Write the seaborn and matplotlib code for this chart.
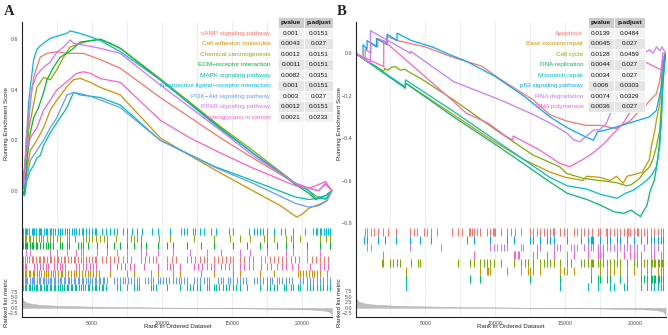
import numpy as np
import pandas as pd
import seaborn as sns
import matplotlib.pyplot as plt
from matplotlib.patches import Rectangle

sns.set_style("white")
plt.rcParams['font.family'] = ['Liberation Sans', 'DejaVu Sans']

W, H = 668, 335
X_MAX = 22200
MINUS = '\u2212'

# ---------------- panel A ----------------
sets_a = ['cAMP signaling pathway', 'Cell adhesion molecules', 'Chemical carcinogenesis',
          'ECM' + MINUS + 'receptor interaction', 'MAPK signaling pathway',
          'Neuroactive ligand' + MINUS + 'receptor interaction', 'PI3K' + MINUS + 'Akt signaling pathway',
          'PPAR signaling pathway', 'Proteoglycans in cancer']
colors_a = ['#F8766D', '#D39200', '#93AA00', '#00BA38', '#00C19F', '#00B9E3', '#619CFF', '#DB72FB', '#FF61C3']
pval_a = ['0.001', '0.0043', '0.0012', '0.0011', '0.0082', '0.001', '0.003', '0.0012', '0.0021']
padj_a = ['0.0151', '0.027', '0.0151', '0.0151', '0.0351', '0.0151', '0.027', '0.0151', '0.0233']

# running enrichment score, (rank, ES) knots
es_camp = [(0, 0), (80, 0.01), (370, 0.19), (610, 0.35), (850, 0.45), (1080, 0.49), (1320, 0.53), (1800, 0.545),
           (2510, 0.552), (3230, 0.545), (4420, 0.545), (5610, 0.52), (7040, 0.486), (9890, 0.37), (14180, 0.21),
           (16500, 0.13), (19540, 0.03), (20500, 0.01), (21200, 0.0), (21700, 0.025), (22150, 0)]
es_celladh = [(0, 0), (180, -0.01), (370, 0.08), (610, 0.16), (1080, 0.2), (1560, 0.25), (2040, 0.32), (2510, 0.36),
              (3230, 0.413), (3700, 0.44), (4180, 0.446), (4890, 0.43), (5610, 0.41), (7040, 0.38), (9890, 0.21),
              (12000, 0.14), (13820, 0.082), (16500, 0.0), (18500, -0.06), (19650, -0.105), (20100, -0.09),
              (20500, -0.07), (21200, -0.055), (21800, -0.04), (22150, 0)]
es_chem = [(0, 0), (180, -0.01), (250, -0.01), (490, 0.24), (730, 0.31), (1080, 0.41), (1560, 0.45), (2040, 0.44),
           (2510, 0.48), (2990, 0.53), (3460, 0.57), (4180, 0.585), (4890, 0.595), (5610, 0.602), (7040, 0.565),
           (9890, 0.445), (14180, 0.255), (16500, 0.16), (19540, 0.03), (20500, 0.0), (21000, -0.02),
           (21700, -0.035), (22150, 0)]
es_ecm = [(0, 0), (180, -0.01), (370, 0.12), (610, 0.23), (850, 0.29), (1200, 0.33), (1560, 0.39), (1800, 0.44),
          (2270, 0.49), (2750, 0.53), (3230, 0.545), (3700, 0.565), (4180, 0.59), (4890, 0.595), (5610, 0.6),
          (6320, 0.585), (7040, 0.565), (9890, 0.44), (14180, 0.25), (16500, 0.15), (19540, 0.025),
          (20500, -0.01), (21000, -0.035), (21700, -0.02), (22150, 0)]
es_mapk = [(0, 0), (180, -0.02), (370, 0.04), (610, 0.08), (850, 0.1), (1080, 0.13), (1320, 0.14), (1560, 0.18),
           (2040, 0.23), (2510, 0.27), (3230, 0.33), (3700, 0.39), (4180, 0.38), (4890, 0.375), (5610, 0.37),
           (7040, 0.34), (9890, 0.2), (13820, 0.095), (16500, 0.04), (19540, -0.025), (20500, -0.035),
           (21200, -0.03), (21800, -0.03), (22150, 0)]
es_neuro = [(0, 0), (80, 0.003), (250, 0.12), (490, 0.35), (610, 0.41), (850, 0.52), (1080, 0.56), (1320, 0.575),
            (2040, 0.605), (3230, 0.625), (3460, 0.634), (4180, 0.624), (4890, 0.611), (5610, 0.596), (7040, 0.552),
            (9890, 0.44), (14180, 0.245), (16500, 0.15), (19540, 0.03), (20500, 0.0), (21000, -0.03),
            (21700, -0.02), (22150, 0)]
es_pi3k = [(0, 0), (130, 0.01), (370, 0.05), (610, 0.12), (1080, 0.16), (1560, 0.2), (2040, 0.25), (2510, 0.29),
           (3230, 0.38), (3700, 0.39), (4180, 0.385), (4890, 0.375), (5610, 0.36), (7040, 0.33), (9890, 0.2),
           (13820, 0.092), (16500, 0.03), (19540, -0.05), (20500, -0.065), (21200, -0.06), (21800, -0.04),
           (22150, 0)]
es_ppar = [(0, 0), (180, 0.04), (320, 0.21), (490, 0.29), (730, 0.41), (1080, 0.46), (1560, 0.49), (2040, 0.51),
           (2510, 0.55), (2990, 0.57), (3460, 0.598), (3700, 0.585), (4420, 0.578), (5610, 0.565), (7040, 0.545),
           (9890, 0.42), (14180, 0.24), (16500, 0.14), (19540, 0.03), (20500, 0.01), (21200, 0.0),
           (21700, 0.03), (22150, 0)]
es_proteo = [(0, 0), (80, 0.04), (320, 0.15), (610, 0.21), (1080, 0.25), (1560, 0.32), (2040, 0.36), (2510, 0.4),
             (3230, 0.433), (3940, 0.466), (4420, 0.472), (4890, 0.466), (5610, 0.445), (7040, 0.43), (9890, 0.28),
             (12000, 0.21), (14180, 0.15), (16500, 0.09), (19540, 0.02), (20500, 0.01), (21000, 0.02),
             (21700, 0.036), (22150, 0)]
es_a = [es_camp, es_celladh, es_chem, es_ecm, es_mapk, es_neuro, es_pi3k, es_ppar, es_proteo]

# hit positions in hundreds of ranks
hits_camp = [1, 2, 4, 5, 7, 8, 10, 12, 13, 15, 16, 18, 20, 21, 23, 25, 26, 28, 30, 31, 33, 35, 37, 38, 40, 42, 44,
             46, 48, 50, 52, 53, 57, 60, 63, 66, 69, 72, 75, 78, 85, 88, 91, 94, 96, 104, 107, 110, 118, 121, 124,
             127, 130, 132, 137, 140, 143, 146, 149, 151, 156, 159, 162, 165, 171, 174, 177, 180, 183, 186, 189,
             192, 195, 198, 204, 207, 210, 213, 216, 219]
hits_celladh = [1, 2, 3, 5, 6, 8, 9, 11, 12, 14, 16, 17, 19, 21, 22, 24, 26, 28, 29, 31, 33, 35, 37, 39, 41, 43,
                45, 47, 49, 51, 53, 55, 63, 75, 80, 92, 97, 108, 113, 128, 137, 151, 156, 170, 180, 197, 199, 201,
                203, 205, 207, 209, 211, 213, 218]
hits_chem = [1, 2, 3, 5, 6, 8, 10, 12, 14, 15, 18, 20, 22, 25, 27, 32, 34, 38, 44, 46, 48, 50, 53, 56, 59, 61, 67,
             75, 78, 80, 82, 85, 98, 106, 123, 137, 149, 156, 163, 173, 175, 180, 189, 192, 194, 199, 213, 217, 220]
hits_ecm = [1, 2, 3, 4, 6, 7, 8, 10, 11, 13, 15, 17, 19, 20, 22, 27, 29, 32, 34, 40, 42, 44, 47, 54, 61, 66, 70,
            75, 80, 85, 89, 97, 104, 108, 118, 128, 137, 151, 161, 170, 175, 182, 189, 194, 204, 213, 220]
hits_mapk = [1, 2, 3, 5, 6, 7, 9, 10, 11, 13, 14, 16, 17, 18, 20, 21, 23, 24, 26, 27, 29, 30, 32, 33, 35, 36, 38,
             39, 41, 42, 44, 45, 47, 48, 50, 52, 53, 55, 57, 58, 60, 68, 70, 75, 80, 82, 84, 92, 94, 96, 104, 113,
             118, 120, 122, 125, 127, 132, 134, 137, 139, 141, 144, 146, 148, 151, 153, 156, 161, 170, 175, 177,
             180, 182, 187, 189, 192, 194, 197, 199, 204, 206, 208, 211, 213, 215, 218, 220]
hits_neuro = [1, 2, 3, 4, 5, 7, 8, 9, 10, 12, 13, 14, 16, 17, 18, 20, 21, 22, 24, 26, 27, 29, 31, 32, 34, 36, 37,
              39, 41, 43, 44, 46, 48, 50, 52, 53, 57, 60, 63, 66, 68, 72, 75, 79, 82, 86, 93, 97, 106, 114, 116,
              118, 122, 124, 127, 130, 135, 139, 148, 151, 162, 166, 168, 170, 172, 175, 180, 185, 188, 194, 202,
              208, 210, 211, 213, 214, 216, 217, 219, 220]
hits_pi3k = [1, 2, 3, 4, 6, 7, 8, 9, 11, 12, 13, 15, 16, 17, 19, 20, 21, 23, 24, 26, 27, 28, 30, 31, 33, 34, 35,
             37, 38, 40, 41, 43, 44, 46, 47, 49, 50, 52, 53, 55, 56, 58, 59, 61, 66, 68, 70, 72, 74, 76, 78, 80,
             82, 84, 88, 90, 92, 94, 97, 99, 101, 103, 105, 108, 110, 112, 114, 116, 118, 123, 125, 127, 130, 132,
             134, 140, 142, 144, 147, 149, 151, 154, 156, 158, 160, 166, 168, 170, 172, 175, 177, 179, 182, 184,
             186, 189, 191, 193, 199, 201, 204, 206, 208, 211, 213, 215, 218, 220]
hits_ppar = [3, 6, 20, 25, 32, 39, 42, 44, 54, 61, 68, 75, 85, 89, 97, 108, 120, 132, 142, 156, 163, 175, 189, 194,
             204, 213]
hits_proteo = [1, 2, 3, 9, 11, 13, 15, 17, 19, 23, 25, 27, 29, 31, 39, 41, 44, 46, 49, 51, 53, 63, 68, 71, 74, 77,
               80, 87, 97, 104, 106, 108, 113, 123, 126, 129, 132, 135, 137, 142, 145, 148, 151, 156, 159, 162,
               165, 171, 175, 178, 182, 186, 189, 193, 197, 206, 213, 216, 219]
hits_a = [hits_camp, hits_celladh, hits_chem, hits_ecm, hits_mapk, hits_neuro, hits_pi3k, hits_ppar, hits_proteo]
# rug row of each set (0 = bottom)
rug_row_a = [4, 2, 7, 6, 0, 8, 1, 5, 3]

# ---------------- panel B ----------------
sets_b = ['Apoptosis', 'Base excision repair', 'Cell cycle', 'DNA replication', 'Mismatch repair',
          'p53 signaling pathway', 'RNA degradation', 'RNA polymerase']
colors_b = ['#F8766D', '#CD9600', '#7CAE00', '#00BE67', '#00BFC4', '#00A9FF', '#C77CFF', '#FF61CC']
pval_b = ['0.0139', '0.0045', '0.0128', '0.0044', '0.0034', '0.006', '0.0074', '0.0036']
padj_b = ['0.0484', '0.027', '0.0459', '0.027', '0.027', '0.0303', '0.0329', '0.027']

es_apop = [(0, 0), (700, -0.03), (700, 0.02), (1100, 0.0), (1100, 0.05), (1600, 0.03), (1600, 0.07), (2260, 0.05),
           (2260, 0.08), (3000, 0.06), (5000, 0.03), (7000, -0.02), (9000, -0.06), (10300, -0.12), (12700, -0.22),
           (13900, -0.29), (15100, -0.32), (16500, -0.34), (17500, -0.34), (18600, -0.355), (19600, -0.32),
           (20300, -0.27), (20800, -0.24), (21500, -0.19), (21740, -0.13), (21930, -0.03), (22150, 0)]
es_ber = [(0, 0), (3570, -0.16), (3570, -0.14), (7020, -0.29), (10000, -0.42), (12000, -0.5), (13880, -0.56),
          (15000, -0.585), (16260, -0.6), (16500, -0.58), (17450, -0.585), (18200, -0.6), (18640, -0.58),
          (19120, -0.613), (19400, -0.58), (20000, -0.57), (20500, -0.56), (21000, -0.5), (21140, -0.44),
          (21400, -0.36), (21500, -0.315), (21740, -0.236), (21900, -0.1), (22150, 0)]
es_cc = [(0, 0), (2020, -0.085), (2100, -0.07), (2300, -0.08), (2600, -0.065), (2860, -0.063), (3200, -0.08),
         (3500, -0.075), (4000, -0.095), (4640, -0.118), (7020, -0.22), (10000, -0.36), (12690, -0.48),
         (14590, -0.535), (15070, -0.566), (16260, -0.59), (17450, -0.6), (18640, -0.61), (19360, -0.625),
         (19700, -0.62), (20300, -0.59), (20550, -0.566), (21020, -0.535), (21250, -0.5), (21500, -0.44),
         (21740, -0.362), (21860, -0.236), (21970, -0.094), (22150, 0)]
es_dna = [(0, 0), (3570, -0.165), (3570, -0.14), (7020, -0.3), (10000, -0.43), (12000, -0.52), (13690, -0.598),
          (15120, -0.66), (16550, -0.69), (17500, -0.716), (18450, -0.747), (19170, -0.755), (19700, -0.74),
          (20360, -0.77), (20830, -0.716), (21070, -0.645), (21350, -0.6), (21600, -0.5), (21800, -0.36),
          (21970, -0.142), (22150, 0)]
es_mmr = [(0, 0), (3570, -0.16), (3570, -0.125), (7020, -0.275), (10000, -0.41), (12000, -0.5), (13880, -0.585),
          (15120, -0.625), (16500, -0.64), (17500, -0.665), (18690, -0.684), (19300, -0.66), (19880, -0.645),
          (20400, -0.62), (20830, -0.598), (21200, -0.57), (21500, -0.535), (21740, -0.44), (21860, -0.315),
          (21970, -0.126), (22150, 0)]
es_p53 = [(0, 0), (545, -0.02), (545, 0.04), (830, 0.02), (830, 0.06), (1500, 0.03), (1500, 0.07), (2260, 0.04),
          (2260, 0.09), (2970, 0.06), (2970, 0.095), (4000, 0.06), (5500, 0.03), (6500, 0.0), (8000, -0.04),
          (10000, -0.11), (12000, -0.2), (13900, -0.3), (15100, -0.35), (16300, -0.39), (17000, -0.41),
          (17300, -0.37), (18000, -0.36), (19000, -0.34), (20000, -0.32), (21000, -0.3), (21500, -0.27),
          (21850, -0.16), (21970, -0.05), (22150, 0)]
es_rnadeg = [(0, 0), (1070, -0.048), (1070, 0.107), (3930, 0.0), (3930, 0.01), (7020, -0.134), (10360, -0.22),
             (12740, -0.29), (13930, -0.33), (15120, -0.377), (15600, -0.409), (16070, -0.417), (16500, -0.39),
             (17020, -0.362), (17450, -0.36), (17930, -0.33), (18170, -0.29), (19000, -0.2), (20000, -0.05),
             (20780, 0.008), (21020, 0.016), (21260, 0.0), (21500, 0.03), (21750, 0.012), (21900, 0.03),
             (22150, 0)]
es_rnapol = [(0, 0), (2020, -0.063), (2020, 0.06), (7020, -0.228), (7930, -0.283), (9500, -0.33), (10780, -0.393),
             (11260, -0.409), (11260, -0.39), (13160, -0.456), (14590, -0.519), (15310, -0.535), (16260, -0.5),
             (16970, -0.47), (17690, -0.43), (18400, -0.38), (19120, -0.33), (19600, -0.28), (20200, -0.15),
             (20670, -0.04), (21900, -0.08), (21950, 0), (22150, 0)]
es_b = [es_apop, es_ber, es_cc, es_dna, es_mmr, es_p53, es_rnadeg, es_rnapol]

hits_apop = [7, 8, 11, 13, 16, 20, 23, 29, 39, 42, 44, 49, 51, 54, 58, 69, 73, 76, 81, 82, 83, 85, 87, 89, 94, 96,
             98, 99, 100, 104, 108, 111, 114, 118, 125, 127, 130, 132, 135, 137, 139, 141, 142, 146, 149, 151, 156,
             158, 161, 163, 166, 169, 173, 175, 179, 180, 182, 185, 187, 189, 192, 194, 195, 196, 199, 201, 202,
             204, 206, 208, 211, 213, 216, 218, 220]
hits_ber = [36, 89, 94, 95, 96, 108, 118, 123, 125, 127, 132, 146, 149, 151, 156, 168, 175, 180, 182, 185, 189, 194,
            199, 204, 208, 211, 216, 218, 220]
hits_cc = [19, 20, 25, 27, 30, 32, 40, 45, 46, 73, 82, 85, 89, 92, 94, 96, 99, 104, 113, 118, 121, 123, 127, 132,
           135, 137, 139, 142, 146, 151, 154, 161, 163, 166, 168, 169, 170, 173, 175, 177, 180, 182, 185, 187, 189,
           194, 199, 201, 204, 206, 208, 211, 212, 213, 214, 216, 217, 218, 219, 220]
hits_dna = [36, 82, 89, 125, 146, 168, 173, 175, 180, 182, 189, 194, 204, 206, 208, 211, 212, 213, 214, 216, 217,
            218, 220]
hits_mmr = [36, 146, 166, 173, 182, 185, 192, 194, 204, 208, 211, 213, 216, 218, 220]
hits_p53 = [6, 8, 16, 21, 29, 39, 46, 54, 80, 85, 96, 108, 113, 125, 127, 132, 137, 139, 142, 151, 161, 166, 168,
            169, 170, 175, 180, 182, 187, 189, 194, 199, 204, 208, 211, 213, 216, 218, 220]
hits_rnadeg = [8, 11, 39, 61, 96, 99, 101, 104, 106, 108, 118, 120, 130, 132, 142, 144, 146, 154, 156, 158, 163,
               166, 168, 170, 173, 175, 177, 180, 182, 185, 187, 189, 192, 194, 196, 199, 201, 206, 211, 213, 216,
               220]
hits_rnapol = [20, 85, 113, 114, 116, 117, 127, 130, 137, 142, 151, 156, 166, 173, 175, 177, 187, 192, 196, 199,
               201, 204, 211, 213, 218, 220]
hits_b = [hits_apop, hits_ber, hits_cc, hits_dna, hits_mmr, hits_p53, hits_rnadeg, hits_rnapol]
rug_row_b = [7, 2, 3, 1, 0, 6, 5, 4]

# ranked list metric (shared gene list)
metric_rank = [1, 30, 80, 150, 300, 500, 800, 1200, 2000, 3000, 4500, 6000, 8000, 10000, 12000, 13500, 15000,
               17000, 19000, 20500, 21300, 21800, 22000, 22100, 22150]
metric_value = [8.2, 5.5, 4.0, 3.2, 2.6, 2.2, 1.8, 1.5, 1.15, 0.9, 0.65, 0.5, 0.33, 0.18, 0.05, -0.05, -0.15,
                -0.3, -0.5, -0.7, -0.95, -1.4, -1.9, -2.6, -3.6]

fig = plt.figure(figsize=(W / 100, H / 100), dpi=100)


def px_axes(l, t, r, b):
    return fig.add_axes([l / W, 1 - b / H, (r - l) / W, (b - t) / H])


def style_axis(ax, left=True, bottom=False):
    for s in ['top', 'right', 'left', 'bottom']:
        ax.spines[s].set_visible(False)
    if left:
        ax.spines['left'].set_visible(True)
    if bottom:
        ax.spines['bottom'].set_visible(True)
    for s in ['left', 'bottom']:
        ax.spines[s].set_color('#222222')
        ax.spines[s].set_linewidth(0.8)
    ax.set_xlim(40, X_MAX)
    ax.set_xticks([5000, 10000, 15000, 20000])
    ax.set_xticks([2500, 7500, 12500, 17500], minor=True)
    ax.grid(axis='x', which='both', color='#EBEBEB', lw=0.6)
    ax.grid(axis='y', visible=False)
    ax.set_axisbelow(True)
    ax.tick_params(axis='both', which='both', labelsize=3.8, labelcolor='#4D4D4D', color='#333333',
                   length=1.5, width=0.5, pad=1.2)
    ax.tick_params(axis='x', which='minor', length=0)
    ax.set_xlabel('')
    ax.set_ylabel('')


def draw_panel(x0, sets, colors, es_list, hits_list, rug_rows, yticks, ylim, rug_bottom):
    x1 = x0 + 310.2
    # running ES
    ax1 = px_axes(x0, 22, x1, 226)
    rows = []
    for name, pts in zip(sets, es_list):
        for r, e in pts:
            rows.append({'Description': name, 'rank': r, 'es': e})
    df = pd.DataFrame(rows)
    sns.lineplot(data=df, x='rank', y='es', hue='Description', hue_order=sets, palette=colors,
                 estimator=None, sort=False, lw=0.9, legend=False, ax=ax1)
    style_axis(ax1)
    ax1.set_ylim(*ylim)
    ax1.set_yticks(yticks)
    ax1.set_yticklabels([f'{v:.1f}'.replace('-', MINUS) for v in yticks])
    ax1.tick_params(axis='x', which='both', length=0, labelbottom=False)

    # hit rug
    n = len(sets)
    ax2 = px_axes(x0, 226, x1, rug_bottom)
    for hits, row, col in zip(hits_list, rug_rows, colors):
        ax2.vlines(np.array(hits) * 100, row, row + 1, colors=col, lw=0.75)
    style_axis(ax2)
    ax2.set_ylim(0, n + 0.25)
    ax2.tick_params(axis='both', which='both', length=0, labelbottom=False, labelleft=False)

    # ranked list metric
    ax3 = px_axes(x0, rug_bottom, x1, 317)
    ax3.fill_between(metric_rank, 0, metric_value, color='#BEBEBE', lw=0.3, edgecolor='#AAAAAA')
    style_axis(ax3, bottom=True)
    ax3.set_ylim(-4.2, 7.8)
    ax3.set_yticks([-2.5, 0, 2.5, 5, 7.5])
    ax3.set_yticklabels([MINUS + '2.5', '0.0', '2.5', '5.0', '7.5'])
    ax3.set_xticklabels(['5000', '10000', '15000', '20000'])
    return ax1


draw_panel(22.3, sets_a, colors_a, es_a, hits_a, rug_row_a, [0.0, 0.2, 0.4, 0.6], (-0.1401, 0.6694), 291)
draw_panel(356.0, sets_b, colors_b, es_b, hits_b, rug_row_b, [0.0, -0.2, -0.4, -0.6, -0.8], (-0.8146, 0.1476), 290.5)

# overlay in pixel coordinates for tables and labels
ov = fig.add_axes([0, 0, 1, 1], zorder=10)
ov.set_xlim(0, W)
ov.set_ylim(H, 0)
ov.axis('off')
ov.patch.set_alpha(0)


def draw_table(label_x, col1, col2, row_h, sets, colors, pvals, padjs):
    top = 17.0
    fs = 4.6
    for (c0, c1), head in zip([col1, col2], ['pvalue', 'p.adjust']):
        ov.add_patch(Rectangle((c0, top), c1 - c0, 10.5, facecolor='#CCCCCC', edgecolor='white', lw=0.6))
        ov.text((c0 + c1) / 2, top + 5.4, head, fontsize=fs, fontweight='bold', ha='center', va='center',
                color='#111111')
    for i, (name, col, p, q) in enumerate(zip(sets, colors, pvals, padjs)):
        y0 = top + 10.5 + i * row_h
        bg = '#F2F2F2' if i % 2 == 0 else '#E5E5E5'
        for (c0, c1), val in zip([col1, col2], [p, q]):
            ov.add_patch(Rectangle((c0, y0), c1 - c0, row_h, facecolor=bg, edgecolor='white', lw=0.6))
            ov.text((c0 + c1) / 2, y0 + row_h / 2 + 0.3, val, fontsize=fs, ha='center', va='center',
                    color='#111111')
        ov.text(label_x, y0 + row_h / 2 + 0.3, name, fontsize=fs, ha='right', va='center', color=col)


draw_table(270.7, (277.5, 304.4), (304.4, 333.2), 10.5, sets_a, colors_a, pval_a, padj_a)
draw_table(583.3, (587.5, 614.4), (614.4, 644.6), 10.55, sets_b, colors_b, pval_b, padj_b)

for cx in [6.3, 339.8]:
    ov.text(cx, 124, 'Running Enrichment Score', fontsize=4.4, rotation=90, ha='center', va='center')
    ov.text(cx, 303, 'Ranked list metric', fontsize=4.4, rotation=90, ha='center', va='center')
ov.text(177.4, 327, 'Rank in Ordered Dataset', fontsize=4.4, ha='center', va='center')
ov.text(511.1, 327, 'Rank in Ordered Dataset', fontsize=4.4, ha='center', va='center')

ov.text(4, 15, 'A', fontsize=10.5, fontweight='bold', family='Liberation Serif', ha='left', va='baseline')
ov.text(337, 15, 'B', fontsize=10.5, fontweight='bold', family='Liberation Serif', ha='left', va='baseline')

fig.savefig('out.png', dpi=100)
